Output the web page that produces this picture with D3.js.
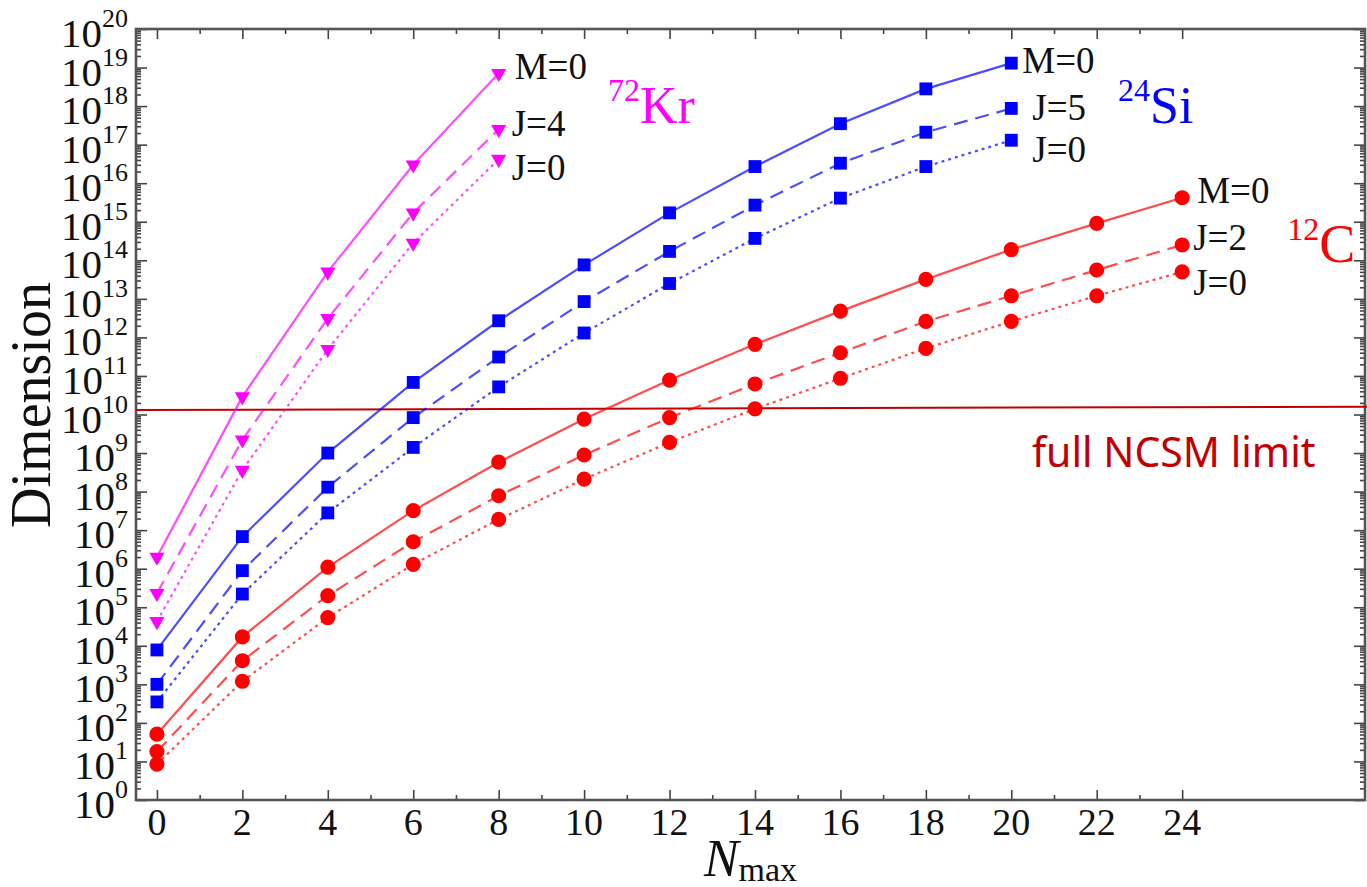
<!DOCTYPE html>
<html>
<head>
<meta charset="utf-8">
<script src="https://cdn.jsdelivr.net/npm/d3@7"></script>
<style>
  body { margin: 0; background: #fff; }
  svg text { font-family: "Liberation Serif", "Times New Roman", serif; }
</style>
</head>
<body>
<svg id="chart" width="1367" height="887"></svg>
<script>
// -------------------------------------------------------------------------
// Data

const nmaxKr = [0, 2, 4, 6, 8];
const nmaxSi = [0, 2, 4, 6, 8, 10, 12, 14, 16, 18, 20];
const nmaxC = [0, 2, 4, 6, 8, 10, 12, 14, 16, 18, 20, 22, 24];

const krM0 = [2.0e6, 2.9e10, 5.0e13, 3.0e16, 7.1e18];
const krJ4 = [2.3e5, 2.2e9, 3.1e12, 1.7e15, 2.5e17];
const krJ0 = [4.3e4, 3.6e8, 4.9e11, 2.8e14, 4.2e16];

const siM0 = [7.8e3, 6.8e6, 1.0e9, 6.8e10, 2.7e12, 7.6e13, 1.7e15, 2.7e16, 3.5e17, 2.8e18, 1.3e19];
const siJ5 = [1.0e3, 8.9e5, 1.3e8, 8.3e9, 3.1e11, 8.5e12, 1.7e14, 2.7e15, 3.3e16, 2.1e17, 8.7e17];
const siJ0 = [3.5e2, 2.2e5, 2.8e7, 1.4e9, 5.2e10, 1.3e12, 2.5e13, 3.7e14, 4.1e15, 2.7e16, 1.3e17];

const cM0 = [51, 1.7e4, 1.1e6, 3.2e7, 5.8e8, 7.6e9, 7.8e10, 6.6e11, 4.8e12, 3.2e13, 1.9e14, 9.1e14, 4.2e15];
const cJ2 = [18, 4.1e3, 2.0e5, 5.0e6, 7.8e7, 8.9e8, 8.3e9, 6.2e10, 4.0e11, 2.6e12, 1.2e13, 5.6e13, 2.5e14];
const cJ0 = [8.5, 1.2e3, 5.4e4, 1.3e6, 1.9e7, 2.1e8, 1.9e9, 1.4e10, 8.7e10, 5.2e11, 2.6e12, 1.2e13, 5.0e13];

const ncsmLimit = [1.3e10, 1.6e10];   // left end, right end

const xTicks = [0, 2, 4, 6, 8, 10, 12, 14, 16, 18, 20, 22, 24];
const xMinorTicks = [1, 3, 5, 7, 9, 11, 13, 15, 17, 19, 21, 23];
const yExponents = d3.range(0, 21);

// -------------------------------------------------------------------------
// Layout

const svg = d3.select('#chart');
const frame = { left: 136, right: 1365, top: 29, bottom: 800 };

const x = d3.scaleLinear().domain([-0.49, 28.28]).range([frame.left, frame.right]);
const y = d3.scaleLog().domain([1, 1e20]).range([frame.bottom, frame.top]);

const colors = { Kr: '#ff00ff', Si: '#0000ff', C: '#ff0000' };
const dashes = { solid: null, dashed: '14,8', dotted: '3,4' };

const series = [
  { nuc: 'Kr', n: nmaxKr, v: krM0, dash: 'solid', label: 'M=0', dx: 16, dy: 6 },
  { nuc: 'Kr', n: nmaxKr, v: krJ4, dash: 'dashed', label: 'J=4', dx: 13, dy: 7 },
  { nuc: 'Kr', n: nmaxKr, v: krJ0, dash: 'dotted', label: 'J=0', dx: 13, dy: 21 },
  { nuc: 'Si', n: nmaxSi, v: siM0, dash: 'solid', label: 'M=0', dx: 11, dy: 10 },
  { nuc: 'Si', n: nmaxSi, v: siJ5, dash: 'dashed', label: 'J=5', dx: 21, dy: 12 },
  { nuc: 'Si', n: nmaxSi, v: siJ0, dash: 'dotted', label: 'J=0', dx: 21, dy: 22 },
  { nuc: 'C', n: nmaxC, v: cM0, dash: 'solid', label: 'M=0', dx: 15, dy: 5 },
  { nuc: 'C', n: nmaxC, v: cJ2, dash: 'dashed', label: 'J=2', dx: 11, dy: 5 },
  { nuc: 'C', n: nmaxC, v: cJ0, dash: 'dotted', label: 'J=0', dx: 11, dy: 23 }
];

const symbols = {
  Kr: d3.symbol().type(d3.symbolTriangle).size(100),
  Si: d3.symbol().type(d3.symbolSquare).size(165),
  C: d3.symbol().type(d3.symbolCircle).size(180)
};

// -------------------------------------------------------------------------
// Axes (ticks on all four sides, pointing inward)

const tickStyle = g => {
  g.select('.domain').remove();
  g.selectAll('line').attr('stroke', '#444').attr('stroke-width', 1.6);
};

const yMinor = [];
yExponents.slice(0, -1).forEach(e => {
  for (let k = 2; k < 10; k++) yMinor.push(k * Math.pow(10, e));
});
const yMajor = yExponents.map(e => Math.pow(10, e));

svg.append('g').attr('transform', `translate(${frame.left},0)`)
  .call(d3.axisLeft(y).tickValues(yMajor).tickSize(-11).tickFormat('')).call(tickStyle);
svg.append('g').attr('transform', `translate(${frame.left},0)`)
  .call(d3.axisLeft(y).tickValues(yMinor).tickSize(-5).tickFormat('')).call(tickStyle);
svg.append('g').attr('transform', `translate(${frame.right},0)`)
  .call(d3.axisRight(y).tickValues(yMajor).tickSize(-11).tickFormat('')).call(tickStyle);
svg.append('g').attr('transform', `translate(${frame.right},0)`)
  .call(d3.axisRight(y).tickValues(yMinor).tickSize(-5).tickFormat('')).call(tickStyle);

svg.append('g').attr('transform', `translate(0,${frame.bottom})`)
  .call(d3.axisBottom(x).tickValues(xTicks).tickSize(-10).tickFormat('')).call(tickStyle);
svg.append('g').attr('transform', `translate(0,${frame.bottom})`)
  .call(d3.axisBottom(x).tickValues(xMinorTicks).tickSize(-5).tickFormat('')).call(tickStyle);
svg.append('g').attr('transform', `translate(0,${frame.top})`)
  .call(d3.axisTop(x).tickValues(xTicks).tickSize(-10).tickFormat('')).call(tickStyle);
svg.append('g').attr('transform', `translate(0,${frame.top})`)
  .call(d3.axisTop(x).tickValues(xMinorTicks).tickSize(-5).tickFormat('')).call(tickStyle);

svg.append('rect')
  .attr('x', frame.left).attr('y', frame.top)
  .attr('width', frame.right - frame.left).attr('height', frame.bottom - frame.top)
  .attr('fill', 'none').attr('stroke', '#555').attr('stroke-width', 2.6);

// y tick labels: 10 with a superscript exponent
const yLabels = svg.append('g').selectAll('text')
  .data(yExponents).enter().append('text')
  .attr('x', 128)
  .attr('y', d => y(Math.pow(10, d)) + 18)
  .attr('text-anchor', 'end')
  .attr('fill', '#111');
yLabels.append('tspan').attr('font-size', 41).text('10');
yLabels.append('tspan').attr('font-size', 26).attr('dy', -20).text(d => d);

svg.append('g').selectAll('text')
  .data(xTicks).enter().append('text')
  .attr('x', d => x(d)).attr('y', 835)
  .attr('text-anchor', 'middle').attr('font-size', 38).attr('fill', '#111')
  .text(d => d);

// axis titles
const xTitle = svg.append('text')
  .attr('x', (frame.left + frame.right) / 2).attr('y', 876)
  .attr('text-anchor', 'middle').attr('fill', '#111');
xTitle.append('tspan').attr('font-size', 52).attr('font-style', 'italic').text('N');
xTitle.append('tspan').attr('font-size', 34).attr('dy', 5).text('max');

svg.append('text')
  .attr('transform', 'translate(50,405) rotate(-90)')
  .attr('text-anchor', 'middle').attr('font-size', 56).attr('fill', '#111')
  .text('Dimension');

// -------------------------------------------------------------------------
// NCSM limit line

svg.append('line')
  .attr('x1', frame.left).attr('x2', 1367)
  .attr('y1', y(ncsmLimit[0])).attr('y2', y(ncsmLimit[1]))
  .attr('stroke', '#c00000').attr('stroke-width', 2);

svg.append('text')
  .attr('x', 1032).attr('y', 467)
  .style('font-family', '"Noto Sans", sans-serif')
  .attr('font-size', 41).attr('fill', '#c00000')
  .text('full NCSM limit');

// -------------------------------------------------------------------------
// Series lines, markers and labels

const line = d3.line().x(d => x(d[0])).y(d => y(d[1]));

series.forEach(s => {
  const pts = s.n.map((n, i) => [n, s.v[i]]);
  const g = svg.append('g');
  g.append('path')
    .attr('d', line(pts))
    .attr('fill', 'none')
    .attr('stroke', colors[s.nuc])
    .attr('stroke-opacity', 0.7)
    .attr('stroke-width', 2.2)
    .attr('stroke-dasharray', dashes[s.dash]);
  g.selectAll('path.marker')
    .data(pts).enter().append('path')
    .attr('class', 'marker')
    .attr('d', symbols[s.nuc])
    .attr('transform', d => `translate(${x(d[0])},${y(d[1])})` + (s.nuc === 'Kr' ? 'rotate(180)' : ''))
    .attr('fill', colors[s.nuc]);
  const last = pts[pts.length - 1];
  g.append('text')
    .attr('x', x(last[0]) + s.dx).attr('y', y(last[1]) + s.dy)
    .attr('font-size', 37).attr('fill', '#111')
    .text(s.label);
});

// nucleus names
const nuclei = [
  { nuc: 'Kr', mass: '72', name: 'Kr', at: [10.56, 3.6e17], size: 52 },
  { nuc: 'Si', mass: '24', name: 'Si', at: [22.5, 3.6e17], size: 52 },
  { nuc: 'C', mass: '12', name: 'C', at: [26.46, 9.1e13], size: 54 }
];
nuclei.forEach(d => {
  const t = svg.append('text')
    .attr('x', x(d.at[0])).attr('y', y(d.at[1]))
    .attr('fill', colors[d.nuc]);
  t.append('tspan').attr('font-size', 32).attr('dy', -22).text(d.mass);
  t.append('tspan').attr('font-size', d.size).attr('dy', 22).text(d.name);
});
</script>
</body>
</html>
